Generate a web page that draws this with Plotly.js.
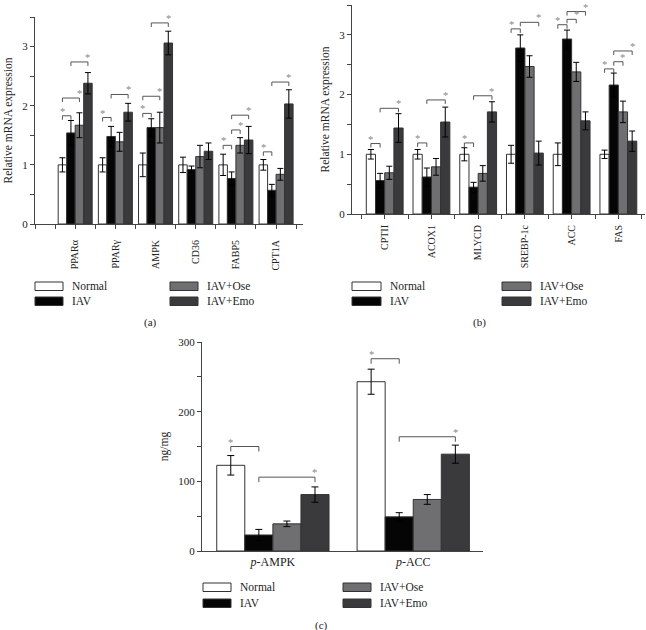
<!DOCTYPE html>
<html>
<head>
<meta charset="utf-8">
<script src="https://cdn.plot.ly/plotly-3.0.1.min.js"></script>
<style>html,body{margin:0;padding:0;background:#fff;}#chart{width:646px;height:630px;}</style>
</head>
<body>
<div id="chart"></div>
<script>
// ---------- DATA ----------
const seriesNames = ['Normal', 'IAV', 'IAV+Ose', 'IAV+Emo'];

// Panel (a)
const catsA = ['PPARα', 'PPARγ', 'AMPK', 'CD36', 'FABP5', 'CPT1A'];
const normalA = [1.00, 1.00, 1.00, 1.00, 1.00, 1.00];
const normalAErr = [0.12, 0.12, 0.20, 0.13, 0.18, 0.09];
const iavA = [1.54, 1.48, 1.63, 0.92, 0.77, 0.57];
const iavAErr = [0.21, 0.17, 0.15, 0.06, 0.11, 0.10];
const oseA = [1.67, 1.39, 1.63, 1.14, 1.33, 0.84];
const oseAErr = [0.21, 0.16, 0.26, 0.19, 0.13, 0.10];
const emoA = [2.38, 1.89, 3.06, 1.23, 1.42, 2.03];
const emoAErr = [0.18, 0.15, 0.20, 0.14, 0.23, 0.24];
// significance brackets: [category, barFrom, barTo, level, star side]
const sigA = [
  [0, 0, 1, 1.83, 'L'], [0, 0, 2, 2.13, 'R'], [0, 1, 3, 2.74, 'R'],
  [1, 0, 1, 1.80, 'L'], [1, 1, 3, 2.19, 'R'],
  [2, 0, 1, 1.87, 'L'], [2, 0, 2, 2.16, 'R'], [2, 1, 3, 3.40, 'R'],
  [4, 0, 1, 1.33, 'L'], [4, 1, 2, 1.59, 'R'], [4, 1, 3, 1.84, 'R'],
  [5, 0, 1, 1.22, 'L'], [5, 1, 3, 2.40, 'R']
];

// Panel (b)
const catsB = ['CPTII', 'ACOX1', 'MLYCD', 'SREBP-1c', 'ACC', 'FAS'];
const normalB = [1.00, 1.00, 1.00, 1.00, 1.00, 1.00];
const normalBErr = [0.08, 0.08, 0.11, 0.15, 0.19, 0.07];
const iavB = [0.56, 0.62, 0.45, 2.78, 2.93, 2.16];
const iavBErr = [0.12, 0.15, 0.08, 0.22, 0.15, 0.20];
const oseB = [0.69, 0.79, 0.68, 2.47, 2.38, 1.71];
const oseBErr = [0.11, 0.14, 0.13, 0.18, 0.16, 0.18];
const emoB = [1.44, 1.54, 1.71, 1.02, 1.56, 1.22];
const emoBErr = [0.24, 0.25, 0.17, 0.20, 0.15, 0.17];
const sigB = [
  [0, 0, 1, 1.18, 'L'], [0, 1, 3, 1.77, 'R'],
  [1, 0, 1, 1.19, 'L'], [1, 1, 3, 1.91, 'R'],
  [2, 0, 1, 1.19, 'L'], [2, 1, 3, 1.98, 'R'],
  [3, 0, 1, 3.10, 'L'], [3, 1, 3, 3.21, 'R'],
  [4, 0, 1, 3.17, 'L'], [4, 1, 2, 3.26, 'R'], [4, 1, 3, 3.39, 'R'],
  [5, 0, 1, 2.43, 'L'], [5, 1, 2, 2.55, 'R'], [5, 1, 3, 2.73, 'R']
];

// Panel (c)
const catsC = ['<i>p</i>-AMPK', '<i>p</i>-ACC'];
const normalC = [123, 243];
const normalCErr = [14, 18];
const iavC = [23, 49];
const iavCErr = [8, 6];
const oseC = [39, 74];
const oseCErr = [4, 7];
const emoC = [81, 139];
const emoCErr = [11, 13];
const sigC = [
  [0, 0, 1, 150, 'L'], [0, 1, 3, 106, 'R'],
  [1, 0, 1, 276, 'L'], [1, 1, 3, 164, 'R']
];

// ---------- STYLE ----------
const W = 646, H = 630;
const FONT = 'Liberation Serif, Times New Roman, serif';
const colors = ['#ffffff', '#050505', '#6f6f71', '#3a3a3c'];
const px = v => v / W;
const py = v => 1 - v / H;

const panels = [
  { key: '', cats: catsA, vals: [normalA, iavA, oseA, emoA], errs: [normalAErr, iavAErr, oseAErr, emoAErr], sig: sigA,
    xpx: [35, 303], ypx: [17, 224], xr: [-1, 5.67], yr: [0, 3.5], bw: 0.2115, capw: 3, tickH: 4,
    ytv: [0, 0.5, 1, 1.5, 2, 2.5, 3, 3.5], ytt: ['0', '', '1', '', '2', '', '3', ''],
    xtv: [-1, -0.5, 0, 0.5, 1, 1.5, 2, 2.5, 3, 3.5, 4, 4.5, 5, 5.5], xticks: 'outside', xfs: 10, xstand: 7,
    ytitle: 'Relative mRNA expression',
    leg: { x1: 35, x2: 170, w: 28, rows: [282, 297], h: 8.5 }, lab: ['(a)', 150, 322] },
  { key: '2', cats: catsB, vals: [normalB, iavB, oseB, emoB], errs: [normalBErr, iavBErr, oseBErr, emoBErr], sig: sigB,
    xpx: [352, 645], ypx: [5, 214], xr: [-0.7, 5.57], yr: [0, 3.5], bw: 0.197, capw: 3, tickH: 4,
    ytv: [0, 0.5, 1, 1.5, 2, 2.5, 3, 3.5], ytt: ['0', '', '1', '', '2', '', '3', ''],
    xtv: [-0.5, 0, 0.5, 1, 1.5, 2, 2.5, 3, 3.5, 4, 4.5, 5, 5.5], xticks: 'outside', xfs: 10, xstand: 2,
    ytitle: 'Relative mRNA expression',
    leg: { x1: 352, x2: 502, w: 29, rows: [282, 297], h: 8.5 }, lab: ['(b)', 479, 322] },
  { key: '3', cats: catsC, vals: [normalC, iavC, oseC, emoC], errs: [normalCErr, iavCErr, oseCErr, emoCErr], sig: sigC,
    xpx: [202, 483], ypx: [342, 551], xr: [-0.505, 1.497], yr: [0, 300], bw: 0.2, capw: 3.5, tickH: 5,
    ytv: [0, 50, 100, 150, 200, 250, 300], ytt: ['0', '', '100', '', '200', '', '300'],
    xtv: [0, 1], xticks: '', xfs: 12, xstand: 0,
    ytitle: 'ng/mg',
    leg: { x1: 203, x2: 343, w: 28, rows: [583, 599], h: 8.5 }, lab: ['(c)', 321, 625] }
];

const traces = [];
const shapes = [];
const annotations = [];
const layout = {
  width: W, height: H,
  margin: { l: 0, r: 0, t: 0, b: 0 },
  paper_bgcolor: '#fff', plot_bgcolor: '#fff',
  barmode: 'overlay', showlegend: false,
  font: { family: FONT, size: 11, color: '#222' }
};

panels.forEach(p => {
  const xa = 'x' + p.key, ya = 'y' + p.key;
  const xname = 'xaxis' + p.key, yname = 'yaxis' + p.key;
  const pos = p.cats.map((c, i) => i);
  p.vals.forEach((v, k) => {
    traces.push({
      type: 'bar', name: seriesNames[k], x: pos, y: v,
      xaxis: xa, yaxis: ya,
      width: p.bw, offset: (k - 2) * p.bw,
      marker: { color: colors[k], line: { color: '#333', width: 1 } },
      error_y: { type: 'data', array: p.errs[k], symmetric: true, color: '#000', thickness: 1, width: p.capw },
      hoverinfo: 'skip'
    });
  });
  const textLabels = p.xtv.map(v => Number.isInteger(v) && v >= 0 && v < p.cats.length ? p.cats[v] : '');
  layout[xname] = {
    domain: [px(p.xpx[0]), px(p.xpx[1])], anchor: ya, range: p.xr,
    tickmode: 'array', tickvals: p.xtv, ticktext: textLabels,
    tickangle: p.key === '3' ? 0 : -90,
    ticks: p.xticks, ticklen: 4, tickcolor: '#444', ticklabelstandoff: p.xstand,
    showline: true, linecolor: '#444', linewidth: 1,
    showgrid: false, zeroline: false, fixedrange: true,
    tickfont: { family: FONT, size: p.xfs, color: '#222' }
  };
  layout[yname] = {
    domain: [py(p.ypx[1]), py(p.ypx[0])], anchor: xa, range: p.yr,
    tickmode: 'array', tickvals: p.ytv, ticktext: p.ytt,
    ticks: 'outside', ticklen: 4, tickcolor: '#444',
    showline: true, linecolor: '#444', linewidth: 1,
    showgrid: false, zeroline: false, fixedrange: true,
    tickfont: { family: FONT, size: 11, color: '#222' },
    title: { text: p.ytitle, font: { family: FONT, size: 11.5, color: '#222' }, standoff: 7 }
  };
  // significance brackets
  const unitPerPx = (p.yr[1] - p.yr[0]) / (p.ypx[1] - p.ypx[0]);
  const hh = p.tickH * unitPerPx;
  const center = (g, k) => g + (k - 1.5) * p.bw;
  p.sig.forEach(s => {
    const xa1 = center(s[0], s[1]), xa2 = center(s[0], s[2]), yl = s[3];
    shapes.push({
      type: 'path', xref: xa, yref: ya,
      path: `M ${xa1},${yl - hh} L ${xa1},${yl} L ${xa2},${yl} L ${xa2},${yl - hh}`,
      line: { color: '#555', width: 1 }
    });
    annotations.push({
      xref: xa, yref: ya, x: s[4] === 'L' ? xa1 : xa2, y: yl,
      text: '*', showarrow: false, yanchor: 'bottom', xanchor: 'center', yshift: -2, borderpad: 0,
      font: { family: FONT, size: 10.5, color: '#888' }
    });
  });
  // legend
  const L = p.leg;
  seriesNames.forEach((nm, k) => {
    const col = k < 2 ? 0 : 1, row = k % 2;
    const x0 = col === 0 ? L.x1 : L.x2;
    const y0 = L.rows[row];
    shapes.push({
      type: 'rect', xref: 'paper', yref: 'paper',
      x0: px(x0), x1: px(x0 + L.w), y0: py(y0 + L.h), y1: py(y0),
      fillcolor: colors[k], line: { color: '#333', width: 1 }
    });
    annotations.push({
      xref: 'paper', yref: 'paper', x: px(x0 + L.w + 7), y: py(y0 + L.h / 2),
      text: nm, showarrow: false, xanchor: 'left', yanchor: 'middle',
      font: { family: FONT, size: 11.5, color: '#222' }
    });
  });
  annotations.push({
    xref: 'paper', yref: 'paper', x: px(p.lab[1]), y: py(p.lab[2]),
    text: p.lab[0], showarrow: false, xanchor: 'center', yanchor: 'middle',
    font: { family: FONT, size: 11, color: '#222' }
  });
});

layout.shapes = shapes;
layout.annotations = annotations;

Plotly.newPlot('chart', traces, layout, { displayModeBar: false, staticPlot: true });
</script>
</body>
</html>
